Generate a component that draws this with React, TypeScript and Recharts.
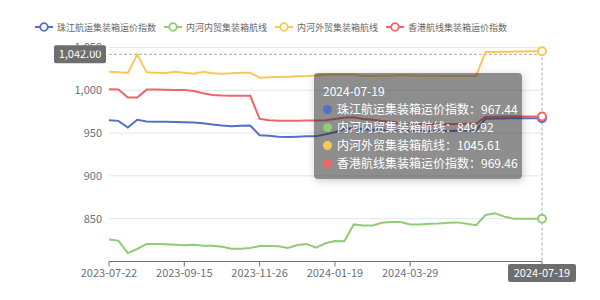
import {
  LineChart,
  Line,
  XAxis,
  YAxis,
  CartesianGrid,
  Tooltip,
  Legend,
  ReferenceLine
} from "recharts"

// weekly dates, 2023-07 .. 2024-07
const dates = [
  "2023-07-22", "2023-07-29", "2023-08-05", "2023-08-12", "2023-08-19", "2023-08-26", "2023-09-02", "2023-09-08",
  "2023-09-15", "2023-09-22", "2023-09-28", "2023-10-13", "2023-10-20", "2023-10-27", "2023-11-03", "2023-11-17",
  "2023-11-26", "2023-12-01", "2023-12-08", "2023-12-15", "2023-12-22", "2023-12-29", "2024-01-05", "2024-01-12",
  "2024-01-19", "2024-01-26", "2024-02-02", "2024-02-23", "2024-03-01", "2024-03-08", "2024-03-15", "2024-03-22",
  "2024-03-29", "2024-04-12", "2024-04-19", "2024-04-26", "2024-05-10", "2024-05-17", "2024-05-24", "2024-05-31",
  "2024-06-07", "2024-06-14", "2024-06-21", "2024-06-28", "2024-07-05", "2024-07-12", "2024-07-19"
]

const pearlRiver = [
  965.1, 964.3, 956.6, 965.5, 963.6, 963.2, 963.2, 963.1, 962.8, 962.4, 961.6, 960.1, 958.9, 958.1, 958.5, 958.9,
  947.5, 946.8, 945.6, 945.3, 945.8, 946.4, 946.2, 948.5, 951.0, 955.0, 955.6, 954.6, 954.0, 953.6, 953.2, 953.0,
  952.8, 952.6, 952.5, 952.4, 952.5, 952.8, 953.0, 953.1, 966.8, 967.0, 967.2, 967.3, 967.4, 967.4, 967.44
]

const inlandDomestic = [
  825.6, 824.4, 809.8, 814.6, 820.5, 820.5, 820.1, 819.7, 818.9, 819.7, 818.5, 818.5, 817.3, 815.0, 815.0, 815.7,
  818.1, 818.1, 817.7, 815.7, 819.3, 820.5, 816.1, 821.3, 824.0, 823.6, 843.3, 842.1, 842.1, 845.3, 846.0, 846.0,
  843.3, 843.3, 844.0, 844.5, 845.3, 845.7, 844.0, 842.5, 854.3, 856.3, 852.4, 850.0, 850.0, 850.0, 849.92
]

const inlandForeign = [
  1021.7, 1021.0, 1020.2, 1042.0, 1021.0, 1020.6, 1020.2, 1021.7, 1020.6, 1019.4, 1021.7, 1019.8, 1019.4, 1019.8, 1020.6, 1020.6,
  1014.7, 1015.1, 1015.5, 1015.9, 1016.3, 1016.7, 1017.4, 1018.2, 1018.6, 1018.6, 1018.6, 1016.7, 1016.7, 1017.1, 1017.1, 1017.8,
  1017.4, 1017.1, 1017.1, 1017.1, 1016.7, 1016.7, 1016.7, 1016.7, 1045.0, 1044.8, 1045.0, 1045.2, 1045.4, 1045.5, 1045.61
]

const hongKong = [
  1001.2, 1001.0, 991.5, 991.6, 1000.8, 1000.8, 1000.5, 1000.4, 1000.4, 999.2, 996.5, 994.6, 993.8, 993.6, 993.6, 993.6,
  966.7, 965.1, 964.3, 964.4, 964.5, 964.8, 964.6, 965.0, 966.5, 967.8, 968.6, 966.5, 965.5, 964.2, 963.2, 961.5,
  961.0, 960.8, 960.6, 960.5, 960.5, 960.6, 960.8, 961.0, 969.0, 969.2, 969.3, 969.4, 969.4, 969.4, 969.46
]

const seriesNames = ["珠江航运集装箱运价指数", "内河内贸集装箱航线", "内河外贸集装箱航线", "香港航线集装箱运价指数"]
const seriesKeys = ["pearlRiver", "inlandDomestic", "inlandForeign", "hongKong"]
const seriesColors = ["#5470c6", "#91cc75", "#fac858", "#ee6666"]

const xTicks = ["2023-07-22", "2023-09-15", "2023-11-26", "2024-01-19", "2024-03-29", "2024-07-19"]
const yTicks = [850, 900, 950, 1000, 1050]

const pointerDate = "2024-07-19"
const pointerValue = 1042

const FONT = "'Noto Sans CJK SC', 'Noto Sans', sans-serif"
const AXIS_GRAY = "#6e7079"
const POINTER_BG = "#6e6e6e"

const chartData = dates.map((day, i) => ({
  day,
  pearlRiver: pearlRiver[i],
  inlandDomestic: inlandDomestic[i],
  inlandForeign: inlandForeign[i],
  hongKong: hongKong[i]
}))

function XTick(props: any) {
  const { x, y, payload } = props
  if (payload.value === pointerDate) {
    return (
      <g>
        <rect x={x - 34} y={y - 4.5} width={68} height={18} rx={2} fill={POINTER_BG} />
        <text x={x} y={y + 8.5} textAnchor="middle" fill="#fff" fontSize={11} fontFamily={FONT}>
          {payload.value}
        </text>
      </g>
    )
  }
  return (
    <text x={x} y={y + 8} textAnchor="middle" fill={AXIS_GRAY} fontSize={11} fontFamily={FONT}>
      {payload.value}
    </text>
  )
}

function YPointerLabel(props: any) {
  const { viewBox } = props
  const x = viewBox.x
  const y = viewBox.y
  return (
    <g>
      <rect x={x - 55} y={y - 9} width={52} height={18} rx={2} fill={POINTER_BG} />
      <text x={x - 29} y={y + 4} textAnchor="middle" fill="#fff" fontSize={11} fontFamily={FONT}>
        {pointerValue.toLocaleString("en-US", { minimumFractionDigits: 2 })}
      </text>
    </g>
  )
}

function LegendContent() {
  return (
    <div style={{ display: "flex", alignItems: "center", height: 20, paddingLeft: 35, gap: 8, fontFamily: FONT }}>
      {seriesNames.map((name, i) => (
        <div key={name} style={{ display: "flex", alignItems: "center" }}>
          <svg width={18} height={10}>
            <line x1={0} y1={5} x2={18} y2={5} stroke={seriesColors[i]} strokeWidth={2} />
            <circle cx={9} cy={5} r={3.8} fill="#fff" stroke={seriesColors[i]} strokeWidth={1.8} />
          </svg>
          <span style={{ marginLeft: 4, fontSize: 9, color: "#666", whiteSpace: "nowrap" }}>{name}</span>
        </div>
      ))}
    </div>
  )
}

function TipContent({ active, payload, label }: any) {
  if (!active || !payload || !payload.length) return null
  return (
    <div
      style={{
        width: 208,
        height: 106,
        boxSizing: "border-box",
        padding: "9px 9px",
        background: "rgba(50,50,50,0.55)",
        borderRadius: 4,
        boxShadow: "1px 2px 8px rgba(0,0,0,0.2)",
        color: "#fff",
        fontFamily: FONT,
        fontSize: 12,
        lineHeight: "18px",
        whiteSpace: "nowrap"
      }}
    >
      <div>{label}</div>
      {payload.map((p: any) => (
        <div key={p.dataKey} style={{ display: "flex", alignItems: "center" }}>
          <span
            style={{ width: 9, height: 9, borderRadius: "50%", background: p.color, marginRight: 5, flexShrink: 0 }}
          />
          {p.name}：{Number(p.value).toFixed(2)}
        </div>
      ))}
    </div>
  )
}

export default function App() {
  return (
    <div style={{ position: "absolute", left: 0, top: 0, width: 600, height: 300, background: "#fff" }}>
      <LineChart
        width={600}
        height={300}
        data={chartData}
        margin={{ top: 47.5, right: 58, bottom: 8.5, left: 49 }}
        style={{ fontFamily: FONT }}
      >
        <CartesianGrid vertical={false} stroke="#e0e6f1" />
        <XAxis
          dataKey="day"
          ticks={xTicks}
          interval={0}
          tick={<XTick />}
          tickSize={5}
          axisLine={{ stroke: AXIS_GRAY }}
          tickLine={{ stroke: AXIS_GRAY }}
        />
        <YAxis
          width={60}
          domain={[800, 1050]}
          ticks={yTicks}
          axisLine={false}
          tickLine={false}
          tickMargin={1}
          tick={{ fontSize: 11, fill: AXIS_GRAY }}
          tickFormatter={(v: number) => v.toLocaleString("en-US")}
        />
        <Legend
          layout="vertical"
          align="center"
          verticalAlign="middle"
          wrapperStyle={{ top: 17, left: 0, width: 600 }}
          content={<LegendContent />}
        />
        <ReferenceLine
          y={pointerValue}
          stroke="#aaa"
          strokeDasharray="3 2"
          label={<YPointerLabel />}
        />
        <Tooltip
          active={true}
          defaultIndex={46}
          position={{ x: 314, y: 73 }}
          isAnimationActive={false}
          cursor={{ stroke: "#aaa", strokeDasharray: "3 2", strokeWidth: 1 }}
          content={<TipContent />}
        />
        {seriesKeys.map((key, i) => (
          <Line
            key={key}
            type="linear"
            dataKey={key}
            name={seriesNames[i]}
            stroke={seriesColors[i]}
            strokeWidth={2}
            dot={false}
            activeDot={{ r: 4, fill: "#fff", stroke: seriesColors[i], strokeWidth: 2 }}
            isAnimationActive={false}
          />
        ))}
      </LineChart>
    </div>
  )
}
